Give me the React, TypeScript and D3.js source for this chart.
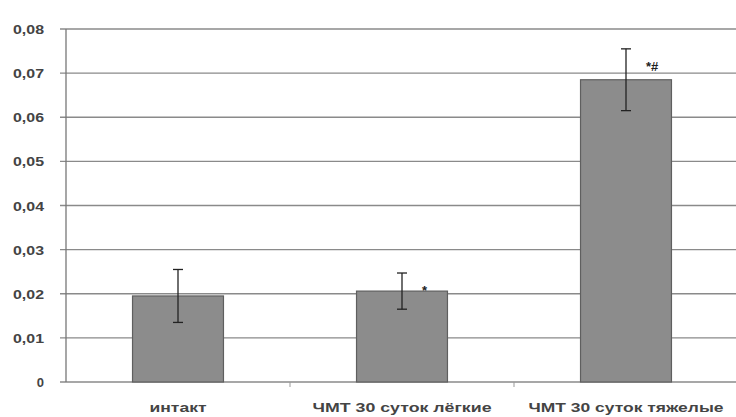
import React from "react";
import * as d3 from "d3";

const categories = ["интакт", "ЧМТ 30 суток лёгкие", "ЧМТ 30 суток тяжелые"];
const labelWidths = [57, 179, 195];
const values = [0.0195, 0.0206, 0.0685];
const errors = [0.006, 0.0041, 0.007];
const marks = ["", "*", "*#"];
const yTicks = [0, 0.01, 0.02, 0.03, 0.04, 0.05, 0.06, 0.07, 0.08];
const yTickLabels = ["0", "0,01", "0,02", "0,03", "0,04", "0,05", "0,06", "0,07", "0,08"];

export default function App() {
  const W = 736, H = 417;
  const left = 66, right = 738, top = 29, bottom = 382;
  const x = d3.scaleBand<string>().domain(categories).range([left, right]).paddingInner(0.594).paddingOuter(0.297);
  const y = d3.scaleLinear().domain([0, 0.08]).range([bottom, top]);
  const bw = x.bandwidth();
  const font = "'Liberation Sans', Arial, sans-serif";
  return (
    <svg width={W} height={H} style={{ position: "absolute", left: 0, top: 0, background: "#fff" }}>
      {yTicks.map((t, i) => (
        <g key={i}>
          <line x1={left - 6} x2={W} y1={y(t)} y2={y(t)} stroke="#8a8a8a" strokeWidth={1.3} />
          <text x={44} y={y(t) + 5} textAnchor="end" fontFamily={font} fontSize={13} fontWeight="bold" fill="#444"
            textLength={yTickLabels[i].length > 1 ? 31 : undefined} lengthAdjust="spacingAndGlyphs">{yTickLabels[i]}</text>
        </g>
      ))}
      <line x1={left} x2={left} y1={top} y2={bottom} stroke="#777" strokeWidth={1.3} />
      {categories.map((c, i) => {
        const xb = (x(c) as number) - (x.step() * x.paddingInner()) / 2;
        return i > 0 ? <line key={"t" + i} x1={xb} x2={xb} y1={bottom} y2={bottom + 5} stroke="#999" /> : null;
      })}
      {categories.map((c, i) => {
        const x0 = x(c) as number;
        const cx = x0 + bw / 2;
        return (
          <g key={c}>
            <rect x={x0} y={y(values[i])} width={bw} height={bottom - y(values[i])} fill="#8c8c8c" stroke="#5f5f5f" strokeWidth={1.2} />
            <line x1={cx} x2={cx} y1={y(values[i] + errors[i])} y2={y(values[i] - errors[i])} stroke="#222" strokeWidth={1.3} />
            <line x1={cx - 5} x2={cx + 5} y1={y(values[i] + errors[i])} y2={y(values[i] + errors[i])} stroke="#222" strokeWidth={1.3} />
            <line x1={cx - 5} x2={cx + 5} y1={y(values[i] - errors[i])} y2={y(values[i] - errors[i])} stroke="#222" strokeWidth={1.3} />
            {marks[i] && (
              <text x={cx + 20} y={y(values[i] + errors[i]) + 22} fontFamily={font} fontSize={13} fontWeight="bold" fill="#222">{marks[i]}</text>
            )}
            <text x={cx} y={412} textAnchor="middle" fontFamily={font} fontSize={13} fontWeight="bold" fill="#444"
              textLength={labelWidths[i]} lengthAdjust="spacingAndGlyphs">{c}</text>
          </g>
        );
      })}
    </svg>
  );
}
